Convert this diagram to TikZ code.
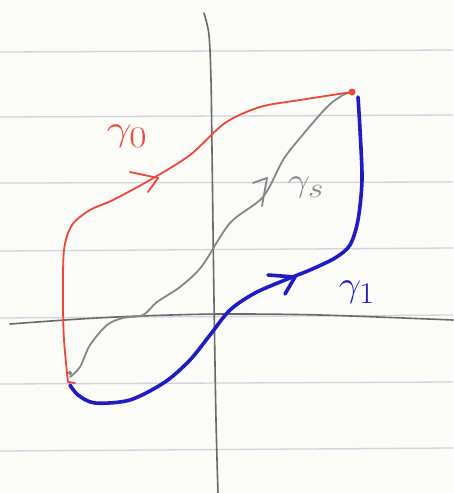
\documentclass[tikz,border=0pt]{standalone}
\begin{document}
\begin{tikzpicture}[x=1pt,y=-1pt,line cap=round,line join=round,
  paperline/.style={draw=papercol,line width=1.3pt},
  axis/.style={draw=axiscol,line width=1.6pt},
  redpath/.style={draw=redcol,line width=1.8pt},
  bluepath/.style={draw=bluecol,line width=3.6pt},
  graypath/.style={draw=graycol,line width=1.8pt},
  lbl/.style={inner sep=0pt,font=\fontsize{24.88}{26}\selectfont}]
\definecolor{papercol}{RGB}{210,210,226}
\definecolor{axiscol}{RGB}{105,105,105}
\definecolor{redcol}{RGB}{240,70,55}
\definecolor{bluecol}{RGB}{32,28,195}
\definecolor{graycol}{RGB}{135,135,135}
\definecolor{bgcol}{RGB}{251,251,247}
\fill[bgcol] (0,0) rectangle (453,493);
\useasboundingbox (0,0) rectangle (453,493);
% lined paper
\foreach \yl/\yr in {52/50,117/115,183/182,251/248,318/315,384/382,451/448}
  \draw[paperline] (0,\yl) -- (453,\yr);
% axes
\draw[axis] plot[smooth] coordinates {(10,324) (80,319) (140,316) (220,314) (320,315) (453,320)};
\draw[axis] plot[smooth] coordinates {(204,13) (209,35) (211,80) (212,150) (214,300) (216,420) (218,493)};
% endpoints
\coordinate (A) at (68,382);
\coordinate (B) at (352,92);
% gray path gamma_s
\draw[graypath] plot[smooth] coordinates {(70,377) (80,367) (90,345) (107,325) (123,318) (143,315) (157,302) (180,287) (202,266) (230,223) (263,197) (283,160) (300,138) (327,107) (343,95) (B)};
\fill[graycol] (70,373) circle (2pt);
\draw[graypath] (267,178) -- (253,183);
\draw[graypath] (267,178) -- (262,206);
% red path gamma_0
\draw[redpath] plot[smooth] coordinates {(A) (64,340) (63,300) (64,250) (72,225) (90,210) (113,200) (150,180) (190,155) (225,123) (260,107) (300,100) (B)};
\draw[redpath] (A) -- (75,383);
\fill[redcol] (B) circle (3.5pt);
\draw[redpath] (158,178) -- (130,172);
\draw[redpath] (158,178) -- (148,192);
% blue path gamma_1
\draw[bluepath] plot[smooth] coordinates {(358,97) (360,130) (362,180) (358,220) (350,245) (335,258) (310,270) (285,280) (255,293) (230,310) (210,335) (190,360) (165,382) (130,400) (95,403) (78,395) (70,385)};
\draw[bluepath] (295,277) -- (268,275);
\draw[bluepath] (295,277) -- (285,294);
% labels
\node[lbl,text=redcol] (g0) at (127,136) {\scalebox{1.8}[1.45]{$\gamma_0$}};
\node[lbl,text=graycol] (gs) at (306,188) {\scalebox{1.6}[1.35]{$\gamma_s$}};
\node[lbl,text=bluecol] (g1) at (357,292) {\scalebox{1.6}[1.45]{$\gamma_1$}};
\end{tikzpicture}
\end{document}
